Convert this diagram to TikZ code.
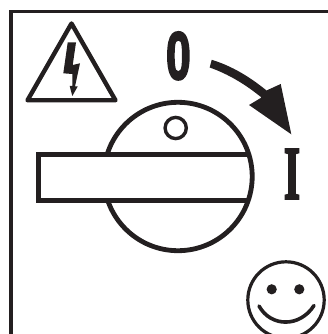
\documentclass[tikz,border=0pt]{standalone}
\usepackage{fontspec}
\usepackage{graphicx}
\newfontfamily\zerofont{Liberation Sans}
\newfontfamily\onefont{Liberation Serif}
\newcommand{\heavytext}[2]{\special{pdf:code 2 Tr #1 w}#2\special{pdf:code 0 Tr}}
\definecolor{ink}{HTML}{231F20}
\tikzset{
  x=1pt,y=-1pt,
  inkline/.style={draw=ink,line width=#1},
  inkfill/.style={fill=ink,draw=none},
  bigglyph/.style={inner sep=0pt,outer sep=0pt,text=ink,anchor=center}
}
\begin{document}
\begin{tikzpicture}
\path[use as bounding box,fill=white] (0,0) rectangle (328,334);
\begin{scope}
\clip (0,0) rectangle (328,334);
% frame
\draw[inkline=2.4pt] (10,11.5) -- (328,11.5);
\draw[inkline=3.6pt] (10.7,10.5) -- (10.7,334);
% warning triangle
\draw[inkline=4.4pt,line join=round] (71.5,23.5) -- (115.5,100.3) -- (27.5,100.3) -- cycle;
\path[inkfill] (67.7,42.5) -- (76,42.5) -- (72.7,65) -- (80,63.3) -- (75,86.5) -- (77.7,86.5) -- (72.3,96) -- (69.7,86) -- (72.3,86) -- (72.3,74) -- (63.3,73.3) -- cycle;
% knob
\draw[inkline=4.8pt] (178,176.5) circle[radius=74.2];
\fill[white] (38,154.5) rectangle (178,200.2);
\draw[inkline=5.2pt] (249.5,154.8) -- (38.2,154.8) -- (38.2,200.2) -- (249.5,200.2);
\draw[inkline=3.4pt] (175.7,128) circle[radius=10.6];
% rotation arrow
\path[inkfill] (211.7,59.8) .. controls (232,66) and (250,77) .. (266.5,90.5) -- (280.7,84) -- (291.3,134.3) -- (249,105) -- (261.5,97.5) .. controls (245,84) and (228,74) .. (209.7,67.5) -- cycle;
% position marks
\node[bigglyph] at (178.4,55.9) {\resizebox{24.6pt}{46.8pt}{\heavytext{0.36}{\zerofont\bfseries 0}}};
\node[bigglyph] at (292,174) {\resizebox{16pt}{49.2pt}{\heavytext{0.36}{\onefont\bfseries I}}};
% smiley
\draw[inkline=3.2pt] (286,300) circle[radius=38.2];
\fill[ink] (271.7,289.3) circle[radius=5.1];
\fill[ink] (299.3,289.3) circle[radius=5.1];
\draw[inkline=3.6pt,line cap=round] (259,306) .. controls (271,327.5) and (300,327.5) .. (314,305.5);
\end{scope}
\end{tikzpicture}
\end{document}
